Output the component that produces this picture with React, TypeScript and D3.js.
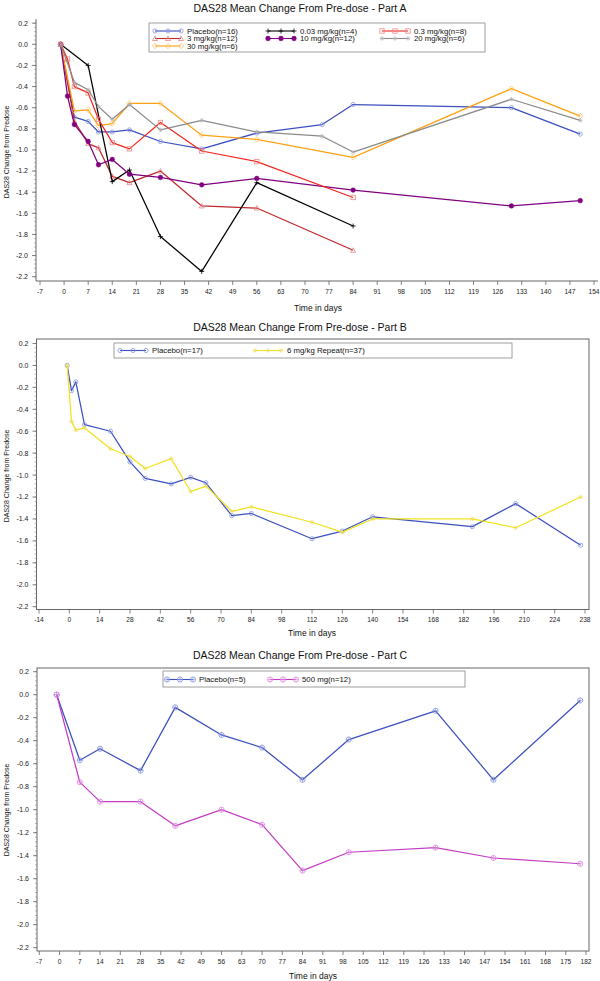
import React from 'react';
import * as d3 from 'd3';

const FONT = '"Liberation Sans", Arial, Helvetica, sans-serif';

// ---------- Part A data ----------
const daysPlaceboA = [-1, 3, 7, 10, 14, 19, 28, 40, 56, 75, 84, 130, 150];
const valsPlaceboA = [0, -0.69, -0.73, -0.83, -0.83, -0.81, -0.92, -0.99, -0.84, -0.76, -0.57, -0.6, -0.85];
const days003A = [-1, 7, 14, 19, 28, 40, 56, 84];
const vals003A = [0, -0.2, -1.3, -1.19, -1.82, -2.15, -1.31, -1.72];
const days03A = [-1, 1, 3, 7, 10, 14, 19, 28, 40, 56, 84];
const vals03A = [0, -0.14, -0.4, -0.46, -0.71, -0.93, -0.99, -0.74, -1.01, -1.11, -1.45];
const days3A = [-1, 3, 7, 10, 14, 19, 28, 40, 56, 84];
const vals3A = [0, -0.73, -0.94, -0.98, -1.25, -1.31, -1.2, -1.53, -1.55, -1.95];
const days10A = [-1, 1, 3, 7, 10, 14, 19, 28, 40, 56, 84, 130, 150];
const vals10A = [0, -0.49, -0.76, -0.92, -1.14, -1.09, -1.23, -1.26, -1.33, -1.27, -1.38, -1.53, -1.48];
const days20A = [-1, 3, 7, 10, 14, 19, 28, 40, 56, 75, 84, 130, 150];
const vals20A = [0, -0.36, -0.43, -0.59, -0.71, -0.57, -0.81, -0.72, -0.83, -0.87, -1.02, -0.52, -0.72];
const days30A = [-1, 3, 7, 10, 14, 19, 28, 40, 56, 84, 130, 150];
const vals30A = [0, -0.63, -0.62, -0.77, -0.75, -0.56, -0.56, -0.86, -0.9, -1.07, -0.42, -0.68];

// ---------- Part B data ----------
const daysB = [-1, 1, 3, 7, 19, 28, 35, 47, 56, 63, 75, 84, 112, 126, 140, 186, 206, 236];
const valsPlaceboB = [0, -0.23, -0.15, -0.54, -0.6, -0.88, -1.03, -1.08, -1.02, -1.07, -1.37, -1.35, -1.58, -1.51, -1.38, -1.47, -1.26, -1.64];
const vals6B = [0, -0.51, -0.59, -0.57, -0.76, -0.83, -0.94, -0.85, -1.15, -1.1, -1.33, -1.29, -1.43, -1.52, -1.4, -1.4, -1.48, -1.2];

// ---------- Part C data ----------
const daysC = [-1, 7, 14, 28, 40, 56, 70, 84, 100, 130, 150, 180];
const valsPlaceboC = [0, -0.57, -0.47, -0.66, -0.11, -0.35, -0.46, -0.74, -0.39, -0.14, -0.74, -0.05];
const vals500C = [0, -0.76, -0.93, -0.93, -1.14, -1.0, -1.13, -1.53, -1.37, -1.33, -1.42, -1.47];

const yTickValues = [0.2, 0, -0.2, -0.4, -0.6, -0.8, -1.0, -1.2, -1.4, -1.6, -1.8, -2.0, -2.2];

type Series = {
  name: string;
  days: number[];
  values: number[];
  color: string;
  mark: string;
  marker: string;
};

type Panel = {
  title: string;
  titleY: number;
  xDomain: [number, number];
  xRange: [number, number];
  xStep: number;
  yRange: [number, number];
  left: number;
  right: number;
  top: number;
  bottom: number;
  frame: boolean;
  xTitleX: number;
  xTitleY: number;
  yTitleY: number;
  legendBox: [number, number, number, number];
  legendPos: [number, number][];
  series: Series[];
};

const panels: Panel[] = [
  {
    title: 'DAS28 Mean Change From Pre-dose - Part A',
    titleY: 12,
    xDomain: [-7, 154],
    xRange: [40, 594],
    xStep: 7,
    yRange: [23.2, 276.7],
    left: 36,
    right: 598,
    top: 19,
    bottom: 281,
    frame: false,
    xTitleX: 318,
    xTitleY: 311,
    yTitleY: 152,
    legendBox: [149, 23, 485, 52],
    legendPos: [[155, 31], [155, 38.5], [155, 46], [268, 31], [268, 38.5], [382, 31], [382, 38.5]],
    series: [
      { name: 'Placebo(n=16)', days: daysPlaceboA, values: valsPlaceboA, color: '#3b4fbf', mark: '#8796dd', marker: 'circle' },
      { name: '3 mg/kg(n=12)', days: days3A, values: vals3A, color: '#c0282c', mark: '#e38585', marker: 'triangle' },
      { name: '30 mg/kg(n=6)', days: days30A, values: vals30A, color: '#ffa114', mark: '#ffc45e', marker: 'diamond' },
      { name: '0.03 mg/kg(n=4)', days: days003A, values: vals003A, color: '#000000', mark: '#000000', marker: 'plus' },
      { name: '10 mg/kg(n=12)', days: days10A, values: vals10A, color: '#800080', mark: '#800080', marker: 'filled' },
      { name: '0.3 mg/kg(n=8)', days: days03A, values: vals03A, color: '#f2261e', mark: '#f08a86', marker: 'square' },
      { name: '20 mg/kg(n=6)', days: days20A, values: vals20A, color: '#8a8a8a', mark: '#b0b0b0', marker: 'star' },
    ],
  },
  {
    title: 'DAS28 Mean Change From Pre-dose - Part B',
    titleY: 331,
    xDomain: [-14, 238],
    xRange: [39, 585],
    xStep: 14,
    yRange: [343.5, 606.7],
    left: 36.5,
    right: 589,
    top: 339,
    bottom: 609.5,
    frame: true,
    xTitleX: 312,
    xTitleY: 636,
    yTitleY: 476,
    legendBox: [114, 343, 512, 358],
    legendPos: [[120, 350.5], [255, 350.5]],
    series: [
      { name: 'Placebo(n=17)', days: daysB, values: valsPlaceboB, color: '#3b4fbf', mark: '#8796dd', marker: 'circle' },
      { name: '6 mg/kg Repeat(n=37)', days: daysB, values: vals6B, color: '#f2e21e', mark: '#eede5a', marker: 'star' },
    ],
  },
  {
    title: 'DAS28 Mean Change From Pre-dose - Part C',
    titleY: 659,
    xDomain: [-7, 182],
    xRange: [39.3, 586],
    xStep: 7,
    yRange: [671.7, 947.7],
    left: 37,
    right: 589,
    top: 668,
    bottom: 951,
    frame: true,
    xTitleX: 313,
    xTitleY: 979,
    yTitleY: 810,
    legendBox: [163, 671, 465, 687],
    legendPos: [[167, 679.5], [270, 679.5]],
    series: [
      { name: 'Placebo(n=5)', days: daysC, values: valsPlaceboC, color: '#3b4fbf', mark: '#8796dd', marker: 'circleplus' },
      { name: '500 mg(n=12)', days: daysC, values: vals500C, color: '#c43cc4', mark: '#df86df', marker: 'circleplus' },
    ],
  },
];

function Marker({ type, x, y, color }: { type: string; x: number; y: number; color: string }) {
  const sw = 0.8;
  switch (type) {
    case 'circle':
      return <circle cx={x} cy={y} r={2.1} fill="none" stroke={color} strokeWidth={sw} />;
    case 'filled':
      return <circle cx={x} cy={y} r={2.4} fill={color} stroke={color} strokeWidth={0.4} />;
    case 'triangle':
      return <path d={`M${x},${y - 2.5}L${x + 2.5},${y + 2}L${x - 2.5},${y + 2}Z`} fill="none" stroke={color} strokeWidth={sw} />;
    case 'square':
      return <rect x={x - 2.2} y={y - 2.2} width={4.4} height={4.4} fill="none" stroke={color} strokeWidth={sw} />;
    case 'diamond':
      return <path d={`M${x},${y - 2.7}L${x + 2.7},${y}L${x},${y + 2.7}L${x - 2.7},${y}Z`} fill="none" stroke={color} strokeWidth={sw} />;
    case 'plus':
      return <path d={`M${x - 2.5},${y}H${x + 2.5}M${x},${y - 2.5}V${y + 2.5}`} stroke={color} strokeWidth={sw} />;
    case 'star':
      return (
        <path
          d={`M${x - 2.3},${y}H${x + 2.3}M${x},${y - 2.3}V${y + 2.3}M${x - 1.6},${y - 1.6}L${x + 1.6},${y + 1.6}M${x - 1.6},${y + 1.6}L${x + 1.6},${y - 1.6}`}
          stroke={color}
          strokeWidth={0.7}
        />
      );
    case 'circleplus':
      return (
        <g>
          <circle cx={x} cy={y} r={2.6} fill="none" stroke={color} strokeWidth={sw} />
          <path d={`M${x - 2.6},${y}H${x + 2.6}M${x},${y - 2.6}V${y + 2.6}`} stroke={color} strokeWidth={0.6} />
        </g>
      );
    default:
      return null;
  }
}

function PanelView({ p }: { p: Panel }) {
  const x = d3.scaleLinear().domain(p.xDomain).range(p.xRange);
  const y = d3.scaleLinear().domain([0.2, -2.2]).range(p.yRange);
  const xTicks = d3.range(p.xDomain[0], p.xDomain[1] + 0.001, p.xStep);
  const minorY = d3.range(0.2, -2.2001, -0.04);
  const line = d3
    .line<[number, number]>()
    .x((d) => x(d[0]))
    .y((d) => y(d[1]));
  const axisColor = '#666';
  const [lx0, ly0, lx1, ly1] = p.legendBox;
  return (
    <g>
      <text x={300} y={p.titleY} textAnchor="middle" fontFamily={FONT} fontSize={10.5} fill="#111">
        {p.title}
      </text>
      {p.frame && (
        <rect x={p.left} y={p.top} width={p.right - p.left} height={p.bottom - p.top} fill="none" stroke={axisColor} strokeWidth={1} />
      )}
      {!p.frame && (
        <g>
          <line x1={p.left} x2={p.left} y1={p.top} y2={p.bottom} stroke={axisColor} strokeWidth={1} />
          <line x1={p.left} x2={p.right} y1={p.bottom} y2={p.bottom} stroke={axisColor} strokeWidth={1} />
        </g>
      )}
      {minorY.map((v, i) => (
        <line key={'m' + i} x1={p.left - 2} x2={p.left} y1={y(v)} y2={y(v)} stroke="#888" strokeWidth={0.6} />
      ))}
      {yTickValues.map((v) => (
        <g key={'y' + v}>
          <line x1={p.left - 4} x2={p.left} y1={y(v)} y2={y(v)} stroke={axisColor} strokeWidth={0.8} />
          <text x={p.left - 8} y={y(v) + 2.4} textAnchor="end" fontFamily={FONT} fontSize={7} fill="#222">
            {d3.format('.1f')(v).replace('−', '-')}
          </text>
        </g>
      ))}
      {xTicks.map((t) => (
        <g key={'x' + t}>
          <line x1={x(t)} x2={x(t)} y1={p.bottom} y2={p.bottom + 4} stroke={axisColor} strokeWidth={0.8} />
          <text x={x(t)} y={p.bottom + 12.5} textAnchor="middle" fontFamily={FONT} fontSize={6.6} fill="#222">
            {String(t)}
          </text>
        </g>
      ))}
      <text x={p.xTitleX} y={p.xTitleY} textAnchor="middle" fontFamily={FONT} fontSize={8.5} fill="#111">
        Time in days
      </text>
      <text
        transform={`translate(9,${p.yTitleY}) rotate(-90)`}
        textAnchor="middle"
        fontFamily={FONT}
        fontSize={7}
        fill="#111"
      >
        DAS28 Change from Predose
      </text>
      {p.series.map((s) => {
        const pts = s.days.map((d, i) => [d, s.values[i]] as [number, number]);
        return (
          <g key={s.name}>
            <path d={line(pts) || ''} fill="none" stroke={s.color} strokeWidth={1.25} strokeLinejoin="round" />
            {pts.map((pt, i) => (
              <Marker key={i} type={s.marker} x={x(pt[0])} y={y(pt[1])} color={s.mark} />
            ))}
          </g>
        );
      })}
      <rect x={lx0} y={ly0} width={lx1 - lx0} height={ly1 - ly0} fill="white" stroke="#888" strokeWidth={0.8} />
      {p.series.map((s, i) => {
        const [px, py] = p.legendPos[i];
        return (
          <g key={'l' + s.name}>
            <line x1={px} x2={px + 26} y1={py} y2={py} stroke={s.color} strokeWidth={1.1} />
            {[0, 13, 26].map((dx) => (
              <Marker key={dx} type={s.marker} x={px + dx} y={py} color={s.mark} />
            ))}
            <text x={px + 32} y={py + 2.8} fontFamily={FONT} fontSize={7.8} fill="#111">
              {s.name}
            </text>
          </g>
        );
      })}
    </g>
  );
}

export default function App() {
  return (
    <svg
      width={600}
      height={981}
      viewBox="0 0 600 981"
      style={{ position: 'absolute', left: 0, top: 0, background: 'white' }}
    >
      <rect x={0} y={0} width={600} height={981} fill="white" />
      {panels.map((p) => (
        <PanelView key={p.title} p={p} />
      ))}
    </svg>
  );
}
